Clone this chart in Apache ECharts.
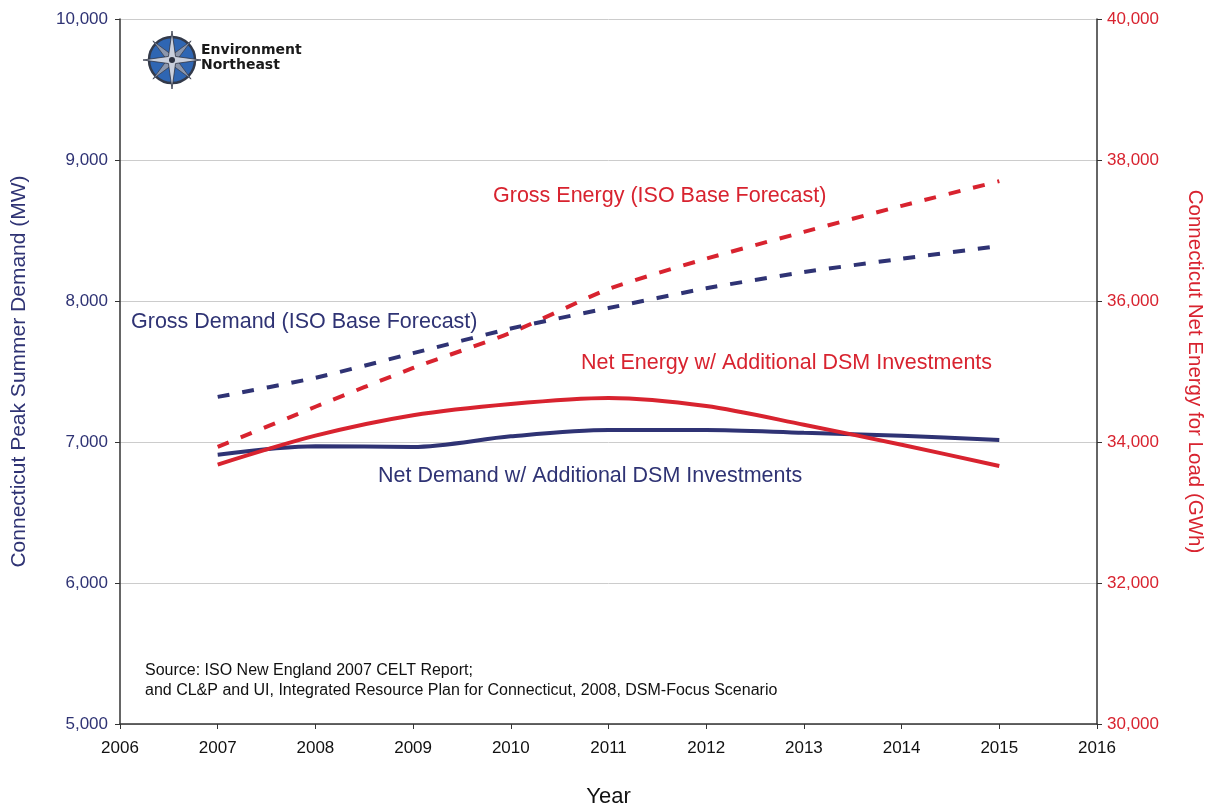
<!DOCTYPE html>
<html>
<head>
<meta charset="utf-8">
<script src="https://cdn.jsdelivr.net/npm/echarts@6/dist/echarts.min.js"></script>
<style>
  html, body { margin: 0; padding: 0; background: #ffffff; }
  #chart { width: 1209px; height: 805px; }
</style>
</head>
<body>
<div id="chart"></div>
<script>
// Forecast years
const years = [2007, 2008, 2009, 2010, 2011, 2012, 2013, 2014, 2015];

// Peak summer demand (MW), left axis
const grossDemand = [7320, 7455, 7630, 7805, 7950, 8090, 8205, 8300, 8390];
const netDemand   = [6910, 6970, 6965, 7040, 7085, 7085, 7065, 7045, 7015];

// Net energy for load (GWh), right axis
const grossEnergy = [33930, 34500, 35050, 35550, 36170, 36600, 36980, 37350, 37700];
const netEnergy   = [33680, 34090, 34380, 34540, 34625, 34510, 34245, 33960, 33660];

const leftTicks  = { min: 5000, max: 10000, interval: 1000 };
const rightTicks = { min: 30000, max: 40000, interval: 2000 };
const yearTicks  = { min: 2006, max: 2016, interval: 1 };

const NAVY = '#2f3374';
const RED = '#d8232f';
const FONT = '"Liberation Sans", Arial, sans-serif';

const pairs = (vals) => years.map((y, i) => [y, vals[i]]);
const fmt = (v) => Number(v).toLocaleString('en-US');

const chart = echarts.init(document.getElementById('chart'));

// compass rose for the organisation mark
const cx = 172, cy = 60;
function star(r1, r2, n, rot) {
  const pts = [];
  for (let i = 0; i < n * 2; i++) {
    const a = rot + i * Math.PI / n;
    const r = i % 2 === 0 ? r1 : r2;
    pts.push([cx + r * Math.sin(a), cy - r * Math.cos(a)]);
  }
  return pts;
}

chart.setOption({
  animation: false,
  textStyle: { fontFamily: FONT },
  grid: { left: 120, right: 112, top: 19, bottom: 81, outerBoundsMode: 'none', containLabel: false },
  xAxis: {
    type: 'value',
    min: yearTicks.min, max: yearTicks.max, interval: yearTicks.interval,
    name: 'Year', nameLocation: 'middle', nameGap: 62,
    nameTextStyle: { fontSize: 22, color: '#111', fontFamily: FONT },
    axisLine: { lineStyle: { color: '#333', width: 1.5 } },
    axisTick: { length: 5, lineStyle: { color: '#333' } },
    axisLabel: { formatter: (v) => String(v), fontSize: 17, color: '#111', margin: 16 },
    splitLine: { show: false }
  },
  yAxis: [
    {
      type: 'value', position: 'left',
      min: leftTicks.min, max: leftTicks.max, interval: leftTicks.interval,
      name: 'Connecticut Peak Summer Demand (MW)', nameLocation: 'middle', nameGap: 90,
      nameTextStyle: { fontSize: 21, color: NAVY, fontFamily: FONT },
      axisLine: { show: true, lineStyle: { color: '#333', width: 1.5 } },
      axisTick: { show: true, length: 5, lineStyle: { color: '#333' } },
      axisLabel: { formatter: fmt, fontSize: 17, color: NAVY, margin: 12 },
      splitLine: { show: true, lineStyle: { color: '#cccccc', width: 1 } }
    },
    {
      type: 'value', position: 'right',
      min: rightTicks.min, max: rightTicks.max, interval: rightTicks.interval,
      name: 'Connecticut Net Energy for Load (GWh)', nameLocation: 'middle', nameGap: 87,
      nameRotate: -90,
      nameTextStyle: { fontSize: 20.5, color: RED, fontFamily: FONT },
      axisLine: { show: true, lineStyle: { color: '#333', width: 1.5 } },
      axisTick: { show: true, length: 5, lineStyle: { color: '#333' } },
      axisLabel: { formatter: fmt, fontSize: 17, color: RED, margin: 10 },
      splitLine: { show: false }
    }
  ],
  series: [
    {
      name: 'Gross Energy (ISO Base Forecast)', type: 'line', yAxisIndex: 1,
      data: pairs(grossEnergy), smooth: 0.2, symbol: 'none',
      lineStyle: { color: RED, width: 4, type: [12, 13] }, z: 3
    },
    {
      name: 'Gross Demand (ISO Base Forecast)', type: 'line', yAxisIndex: 0,
      data: pairs(grossDemand), smooth: 0.2, symbol: 'none',
      lineStyle: { color: NAVY, width: 4, type: [12, 13] }, z: 4
    },
    {
      name: 'Net Energy w/ Additional DSM Investments', type: 'line', yAxisIndex: 1,
      data: pairs(netEnergy), smooth: 0.3, symbol: 'none',
      lineStyle: { color: RED, width: 4 }, z: 5
    },
    {
      name: 'Net Demand w/ Additional DSM Investments', type: 'line', yAxisIndex: 0,
      data: pairs(netDemand), smooth: 0.3, symbol: 'none',
      lineStyle: { color: NAVY, width: 4 }, z: 4
    }
  ],
  graphic: [
    { type: 'text', left: 493, top: 185, style: { text: 'Gross Energy (ISO Base Forecast)', fill: RED, font: '21.5px ' + FONT } },
    { type: 'text', left: 131, top: 311, style: { text: 'Gross Demand (ISO Base Forecast)', fill: NAVY, font: '21.5px ' + FONT } },
    { type: 'text', left: 581, top: 352, style: { text: 'Net Energy w/ Additional DSM Investments', fill: RED, font: '21.5px ' + FONT } },
    { type: 'text', left: 378, top: 465, style: { text: 'Net Demand w/ Additional DSM Investments', fill: NAVY, font: '21.5px ' + FONT } },
    { type: 'text', left: 145, top: 663, style: { text: 'Source: ISO New England 2007 CELT Report;', fill: '#111', font: '16px ' + FONT } },
    { type: 'text', left: 145, top: 683, style: { text: 'and CL&P and UI, Integrated Resource Plan for Connecticut, 2008, DSM-Focus Scenario', fill: '#111', font: '16px ' + FONT } },
    // organisation mark
    { type: 'circle', shape: { cx: cx, cy: cy, r: 23 }, style: { fill: '#2f66b3', stroke: '#333a4a', lineWidth: 2.5 }, z: 10 },
    { type: 'polygon', shape: { points: star(27, 5, 4, Math.PI / 4) }, style: { fill: '#8c97ad', stroke: '#3a4050', lineWidth: 0.8 }, z: 11 },
    { type: 'polygon', shape: { points: star(29, 5, 4, 0) }, style: { fill: '#c9cfdc', stroke: '#2e3444', lineWidth: 0.8 }, z: 12 },
    { type: 'circle', shape: { cx: cx, cy: cy, r: 3 }, style: { fill: '#2c3140' }, z: 13 },
    { type: 'text', left: 201, top: 43, style: { text: 'Environment', fill: '#1a1a1a', font: 'bold 14px "DejaVu Sans", sans-serif' }, z: 10 },
    { type: 'text', left: 201, top: 58, style: { text: 'Northeast', fill: '#1a1a1a', font: 'bold 14px "DejaVu Sans", sans-serif' }, z: 10 }
  ]
});
</script>
</body>
</html>
